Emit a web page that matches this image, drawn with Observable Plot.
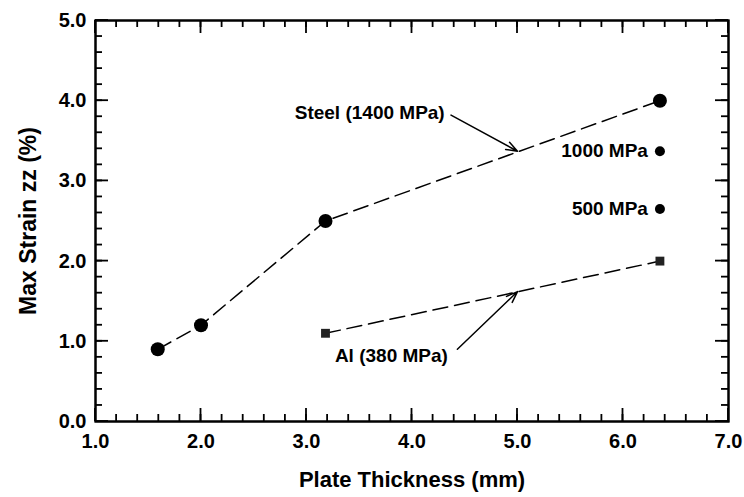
<!DOCTYPE html>
<html><head><meta charset="utf-8">
<script src="https://cdn.jsdelivr.net/npm/d3@7"></script>
<script src="https://cdn.jsdelivr.net/npm/@observablehq/plot@0.6"></script>
<style>body{margin:0;background:#fff} #wrap{position:relative;width:744px;height:497px} #wrap svg{position:absolute;left:0;top:0} #ticks{pointer-events:none}</style>
</head><body><div id="wrap"></div>
<script>
// Data
const steelThickness = [1.59, 2.0, 3.18, 6.35];
const steelStrain = [0.9, 1.2, 2.5, 4.0];
const alThickness = [3.18, 6.35];
const alStrain = [1.1, 2.0];
const otherLabels = ["1000 MPa", "500 MPa"];
const otherThickness = [6.35, 6.35];
const otherStrain = [3.37, 2.65];
const xTicks = [1, 2, 3, 4, 5, 6, 7];
const yTicks = [0, 1, 2, 3, 4, 5];
const xTitle = "Plate Thickness (mm)";
const yTitle = "Max Strain zz (%)";
const seriesLabels = ["Steel (1400 MPa)", "Al (380 MPa)"];
const labelX = [4.31, 4.34];
const labelY = [3.85, 0.82];
const arrowFromX = [4.37, 4.43];
const arrowFromY = [3.82, 0.9];
const arrowToX = [5.0, 5.0];
const arrowToY = [3.37, 1.62];

const steel = steelThickness.map((x, i) => ({x, y: steelStrain[i]}));
const al = alThickness.map((x, i) => ({x, y: alStrain[i]}));
const others = otherLabels.map((t, i) => ({t, x: otherThickness[i], y: otherStrain[i]}));
const labels = seriesLabels.map((t, i) => ({t, x: labelX[i], y: labelY[i]}));
const arrows = arrowFromX.map((x1, i) => ({x1, y1: arrowFromY[i], x2: arrowToX[i], y2: arrowToY[i]}));
const minorX = d3.range(12, 70, 2).map(d => d / 10);
const minorY = d3.range(2, 50, 2).map(d => d / 10);
const fmt = d3.format(".1f");

const frameOpts = {
  width: 744, height: 497,
  marginLeft: 95, marginRight: 16, marginTop: 20, marginBottom: 76,
  x: {domain: [1, 7]},
  y: {domain: [0, 5]}
};

const chart = Plot.plot({
  ...frameOpts,
  style: {fontFamily: "Liberation Sans, Arial, sans-serif", fontWeight: "bold", fontSize: "20px", color: "black"},
  marks: [
    Plot.axisX(xTicks, {anchor: "bottom", tickSize: 0, tickPadding: 12, tickFormat: fmt, label: null, fontSize: 20, fontWeight: "bold"}),
    Plot.axisY(yTicks, {anchor: "left", tickSize: 0, tickPadding: 9, tickFormat: fmt, label: null, fontSize: 20, fontWeight: "bold"}),
    Plot.frame({strokeWidth: 2}),
    Plot.text([xTitle], {frameAnchor: "bottom", textAnchor: "middle", dy: 65, text: d => d, fontSize: 22, fontWeight: "bold"}),
    Plot.text([yTitle], {frameAnchor: "left", textAnchor: "middle", dx: -67, rotate: -90, text: d => d, fontSize: 23, fontWeight: "bold"}),
    Plot.line(steel, {x: "x", y: "y", strokeWidth: 1.5, strokeDasharray: "15,7"}),
    Plot.line(al, {x: "x", y: "y", strokeWidth: 1.5, strokeDasharray: "15,7"}),
    Plot.dot(steel, {x: "x", y: "y", r: 7, fill: "black", stroke: "none"}),
    Plot.dot(al, {x: "x", y: "y", r: 5, symbol: "square", fill: "#222", stroke: "none"}),
    Plot.dot(others, {x: "x", y: "y", r: 5, fill: "black", stroke: "none"}),
    Plot.text(others, {x: "x", y: "y", text: "t", textAnchor: "end", dx: -12, fontSize: 19, fontWeight: "bold"}),
    Plot.text(labels, {x: "x", y: "y", text: "t", textAnchor: "end", fontSize: 19, fontWeight: "bold"}),
    Plot.arrow(arrows, {x1: "x1", y1: "y1", x2: "x2", y2: "y2", headLength: 12, headAngle: 40, strokeWidth: 1.5, stroke: "black"})
  ]
});
document.getElementById("wrap").append(chart);

// Separate transparent overlay with the same scales, carrying the inward ticks
const overlay = Plot.plot({
  ...frameOpts,
  axis: null,
  style: {background: "transparent"},
  marks: [Plot.frame({strokeWidth: 2, stroke: "black"})]
});
overlay.id = "ticks";
overlay.style.background = "transparent";
const sx = overlay.scale("x"), sy = overlay.scale("y");
const [xl, xr] = sx.range, [yb, yt] = sy.range;
const g = d3.select(overlay).append("g").attr("stroke", "black").attr("stroke-width", 1.8);
for (const [vals, len] of [[minorX, 7], [xTicks, 13]]) {
  for (const v of vals) {
    const px = sx.apply(v);
    g.append("line").attr("x1", px).attr("x2", px).attr("y1", yb).attr("y2", yb - len);
    g.append("line").attr("x1", px).attr("x2", px).attr("y1", yt).attr("y2", yt + len);
  }
}
for (const [vals, len] of [[minorY, 7], [yTicks, 13]]) {
  for (const v of vals) {
    const py = sy.apply(v);
    g.append("line").attr("y1", py).attr("y2", py).attr("x1", xl).attr("x2", xl + len);
    g.append("line").attr("y1", py).attr("y2", py).attr("x1", xr).attr("x2", xr - len);
  }
}
document.getElementById("wrap").append(overlay);
</script>
</body></html>
